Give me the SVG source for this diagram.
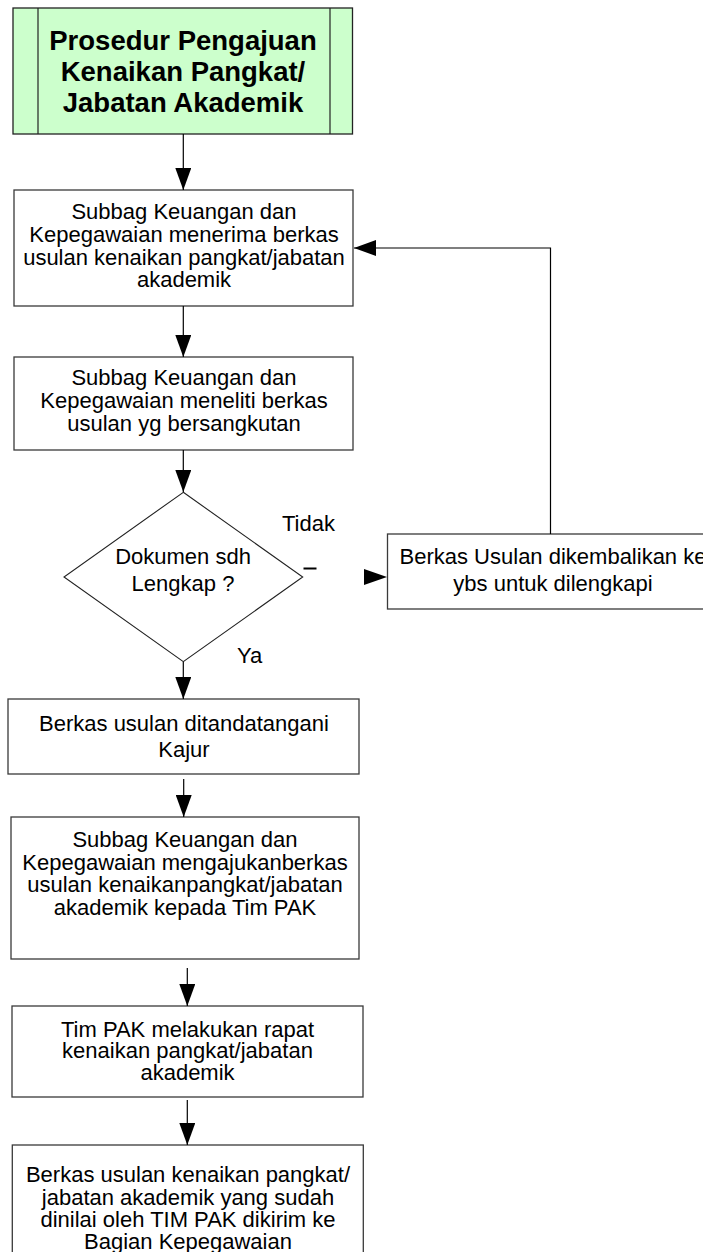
<svg xmlns="http://www.w3.org/2000/svg" width="703" height="1252" viewBox="0 0 703 1252">
<style>
.box{fill:#ffffff;stroke:#3a3a3a;stroke-width:1.3}
.title{fill:#ccffcc;stroke:#222;stroke-width:1.3}
.t{font-family:"Liberation Sans",Arial,sans-serif;font-size:22px;fill:#000;text-anchor:middle}
.tl{font-family:"Liberation Sans",Arial,sans-serif;font-size:22px;fill:#000}
.tb{font-family:"Liberation Sans",Arial,sans-serif;font-size:27.5px;font-weight:bold;fill:#000;text-anchor:middle}
.ln{stroke:#000;stroke-width:1.2;fill:none}
</style>
<defs>
<marker id="ah" markerWidth="22" markerHeight="16" refX="22" refY="8" orient="auto" markerUnits="userSpaceOnUse">
<path d="M0,0 L22,8 L0,16 Z" fill="#000"/>
</marker>
</defs>
<rect width="703" height="1252" fill="#ffffff"/>
<g id="title">
<rect class="title" x="13" y="8" width="339.5" height="126"/>
<line x1="38" y1="8" x2="38" y2="134" stroke="#222" stroke-width="1.2"/>
<line x1="330" y1="8" x2="330" y2="134" stroke="#222" stroke-width="1.2"/>
<text class="tb" x="183" y="50">Prosedur Pengajuan</text>
<text class="tb" x="183" y="81">Kenaikan Pangkat/</text>
<text class="tb" x="183" y="112">Jabatan Akademik</text>
</g>
<g id="box1">
<rect class="box" x="14" y="190" width="339" height="116"/>
<text class="t" x="184" y="219">Subbag Keuangan dan</text>
<text class="t" x="184" y="242">Kepegawaian menerima berkas</text>
<text class="t" x="184" y="265">usulan kenaikan pangkat/jabatan</text>
<text class="t" x="184" y="287">akademik</text>
</g>
<g id="box2">
<rect class="box" x="14" y="357" width="339" height="93"/>
<text class="t" x="184" y="385">Subbag Keuangan dan</text>
<text class="t" x="184" y="408">Kepegawaian meneliti berkas</text>
<text class="t" x="184" y="431">usulan yg bersangkutan</text>
</g>
<g id="decision">
<polygon points="183.3,492.3 302.7,577 183.3,661.7 64,577" fill="#ffffff" stroke="#222" stroke-width="1.1"/>
<text class="t" x="183" y="564">Dokumen sdh</text>
<text class="t" x="183" y="591">Lengkap ?</text>
</g>
<g id="returnbox">
<rect class="box" x="387.5" y="534" width="331" height="75"/>
<text class="t" x="553" y="564">Berkas Usulan dikembalikan ke</text>
<text class="t" x="553" y="591">ybs untuk dilengkapi</text>
</g>
<g id="box3">
<rect class="box" x="8" y="699" width="351" height="75"/>
<text class="t" x="184" y="731">Berkas usulan ditandatangani</text>
<text class="t" x="184" y="757">Kajur</text>
</g>
<g id="box4">
<rect class="box" x="11" y="817" width="348" height="142"/>
<text class="t" x="185" y="847">Subbag Keuangan dan</text>
<text class="t" x="185" y="870">Kepegawaian mengajukanberkas</text>
<text class="t" x="185" y="892">usulan kenaikanpangkat/jabatan</text>
<text class="t" x="185" y="915">akademik kepada Tim PAK</text>
</g>
<g id="box5">
<rect class="box" x="12" y="1006" width="351" height="91"/>
<text class="t" x="187.5" y="1037">Tim PAK melakukan rapat</text>
<text class="t" x="187.5" y="1058">kenaikan pangkat/jabatan</text>
<text class="t" x="187.5" y="1080">akademik</text>
</g>
<g id="box6">
<rect class="box" x="12.3" y="1145" width="351" height="120"/>
<text class="t" x="188" y="1182">Berkas usulan kenaikan pangkat/</text>
<text class="t" x="188" y="1205">jabatan akademik yang sudah</text>
<text class="t" x="188" y="1227">dinilai oleh TIM PAK dikirim ke</text>
<text class="t" x="188" y="1249">Bagian Kepegawaian</text>
</g>
<g id="labels">
<text class="tl" x="282" y="531">Tidak</text>
<text class="tl" x="237" y="663">Ya</text>
</g>
<g id="connectors">
<line class="ln" x1="183.3" y1="134" x2="183.3" y2="190" marker-end="url(#ah)"/>
<line class="ln" x1="183.3" y1="306" x2="183.3" y2="357" marker-end="url(#ah)"/>
<line class="ln" x1="183.3" y1="450" x2="183.3" y2="492" marker-end="url(#ah)"/>
<line class="ln" x1="183.3" y1="662" x2="183.3" y2="699" marker-end="url(#ah)"/>
<line class="ln" x1="183.7" y1="779" x2="183.7" y2="817" marker-end="url(#ah)"/>
<line class="ln" x1="187.3" y1="968" x2="187.3" y2="1006" marker-end="url(#ah)"/>
<line class="ln" x1="187.3" y1="1100" x2="187.3" y2="1145" marker-end="url(#ah)"/>
<polyline class="ln" points="550.5,534 550.5,248 354,248" marker-end="url(#ah)"/>
<polygon points="364,569 387,577 364,585" fill="#000"/>
<line x1="303.5" y1="568.5" x2="316.5" y2="568.5" stroke="#000" stroke-width="2"/>
</g>
</svg>
